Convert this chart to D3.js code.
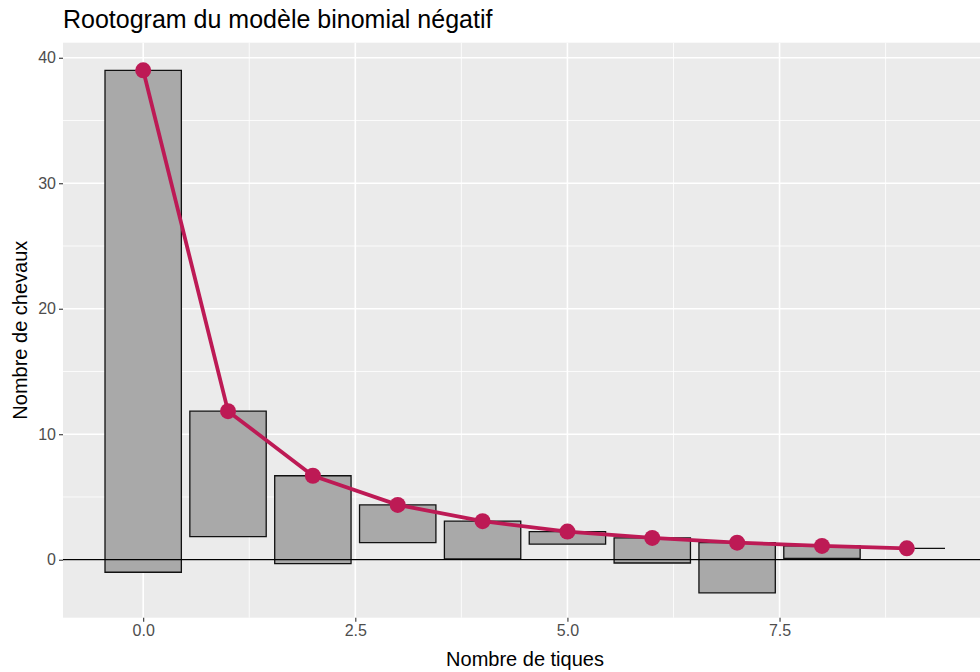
<!DOCTYPE html>
<html>
<head>
<meta charset="utf-8">
<script src="https://cdn.jsdelivr.net/npm/d3@7/dist/d3.min.js"></script>
<style>
  html, body { margin: 0; padding: 0; background: #fff; }
  svg { display: block; font-family: "Liberation Sans", Arial, sans-serif; }
</style>
</head>
<body>
<svg id="chart" width="980" height="672"></svg>
<script>
// Hanging rootogram: each bar hangs from the fitted count and drops by the observed count
const counts   = [0, 1, 2, 3, 4, 5, 6, 7, 8, 9];
const observed = [40, 10, 7, 3, 3, 1, 2, 4, 1, 0];
const expected = [39.0, 11.84, 6.69, 4.37, 3.07, 2.24, 1.74, 1.36, 1.10, 0.91];
const xTicks = [0, 2.5, 5, 7.5];
const yTicks = [0, 10, 20, 30, 40];
const xMinor = [1.25, 3.75, 6.25, 8.75];
const yMinor = [5, 15, 25, 35];

const title = "Rootogram du modèle binomial négatif";
const xTitle = "Nombre de tiques";
const yTitle = "Nombre de chevaux";

const rows = counts.map((c, i) => ({
  x: c,
  top: expected[i],
  bottom: expected[i] - observed[i]
}));

const svg = d3.select("#chart");
const panel = { left: 63, right: 987, top: 42.7, bottom: 617.7 };
const barHalf = 0.45;

// 5% padding around the data range on x
const xLo = d3.min(counts) - barHalf, xHi = d3.max(counts) + barHalf;
const xPad = (xHi - xLo) * 0.05;

const x = d3.scaleLinear().domain([xLo - xPad, xHi + xPad]).range([panel.left, panel.right]);
const y = d3.scaleLinear().domain([-4.62, 41.2]).range([panel.bottom, panel.top]);

// panel background
svg.append("rect")
  .attr("x", panel.left).attr("y", panel.top)
  .attr("width", panel.right - panel.left).attr("height", panel.bottom - panel.top)
  .attr("fill", "#EBEBEB");

const grid = svg.append("g");
grid.selectAll(".ymin").data(yMinor).join("line")
  .attr("x1", panel.left).attr("x2", panel.right)
  .attr("y1", d => y(d)).attr("y2", d => y(d))
  .attr("stroke", "#fff").attr("stroke-width", 0.8);
grid.selectAll(".xmin").data(xMinor).join("line")
  .attr("y1", panel.top).attr("y2", panel.bottom)
  .attr("x1", d => x(d)).attr("x2", d => x(d))
  .attr("stroke", "#fff").attr("stroke-width", 0.8);
grid.selectAll(".ymaj").data(yTicks).join("line")
  .attr("x1", panel.left).attr("x2", panel.right)
  .attr("y1", d => y(d)).attr("y2", d => y(d))
  .attr("stroke", "#fff").attr("stroke-width", 1.6);
grid.selectAll(".xmaj").data(xTicks).join("line")
  .attr("y1", panel.top).attr("y2", panel.bottom)
  .attr("x1", d => x(d)).attr("x2", d => x(d))
  .attr("stroke", "#fff").attr("stroke-width", 1.6);

// hanging bars (drawn as paths so zero-height bars still show their outline)
svg.append("g").selectAll("path").data(rows).join("path")
  .attr("d", d => {
    const p = d3.path();
    p.moveTo(x(d.x - barHalf), y(d.top));
    p.lineTo(x(d.x + barHalf), y(d.top));
    p.lineTo(x(d.x + barHalf), y(d.bottom));
    p.lineTo(x(d.x - barHalf), y(d.bottom));
    p.closePath();
    return p.toString();
  })
  .attr("fill", "#A9A9A9")
  .attr("stroke", "#111")
  .attr("stroke-width", 1.3);

// reference line at zero
svg.append("line")
  .attr("x1", panel.left).attr("x2", panel.right)
  .attr("y1", y(0)).attr("y2", y(0))
  .attr("stroke", "#000").attr("stroke-width", 1.2);

// fitted counts
const red = "#BD1A55";
svg.append("path")
  .datum(rows)
  .attr("d", d3.line().x(d => x(d.x)).y(d => y(d.top)))
  .attr("fill", "none")
  .attr("stroke", red)
  .attr("stroke-width", 3.8)
  .attr("stroke-linejoin", "round");
svg.append("g").selectAll("circle").data(rows).join("circle")
  .attr("cx", d => x(d.x)).attr("cy", d => y(d.top))
  .attr("r", 8)
  .attr("fill", red);

// axes
const xAxis = svg.append("g")
  .attr("transform", `translate(0,${panel.bottom})`)
  .call(d3.axisBottom(x).tickValues(xTicks).tickFormat(d3.format(".1f")).tickSize(4).tickPadding(3));
const yAxis = svg.append("g")
  .attr("transform", `translate(${panel.left},0)`)
  .call(d3.axisLeft(y).tickValues(yTicks).tickFormat(d3.format("d")).tickSize(4).tickPadding(3));
[xAxis, yAxis].forEach(a => {
  a.select(".domain").remove();
  a.selectAll(".tick line").attr("stroke", "#333").attr("stroke-width", 1.1);
  a.selectAll(".tick text")
    .attr("fill", "#4D4D4D")
    .attr("font-size", 16)
    .attr("font-family", "'Liberation Sans', Arial, sans-serif");
});

// titles
svg.append("text")
  .attr("x", 63).attr("y", 28)
  .attr("font-size", 25)
  .attr("fill", "#000")
  .text(title);
svg.append("text")
  .attr("x", (panel.left + panel.right) / 2).attr("y", 666)
  .attr("text-anchor", "middle")
  .attr("font-size", 20)
  .attr("fill", "#000")
  .text(xTitle);
svg.append("text")
  .attr("transform", `translate(27,${(panel.top + panel.bottom) / 2}) rotate(-90)`)
  .attr("text-anchor", "middle")
  .attr("font-size", 20)
  .attr("fill", "#000")
  .text(yTitle);
</script>
</body>
</html>
